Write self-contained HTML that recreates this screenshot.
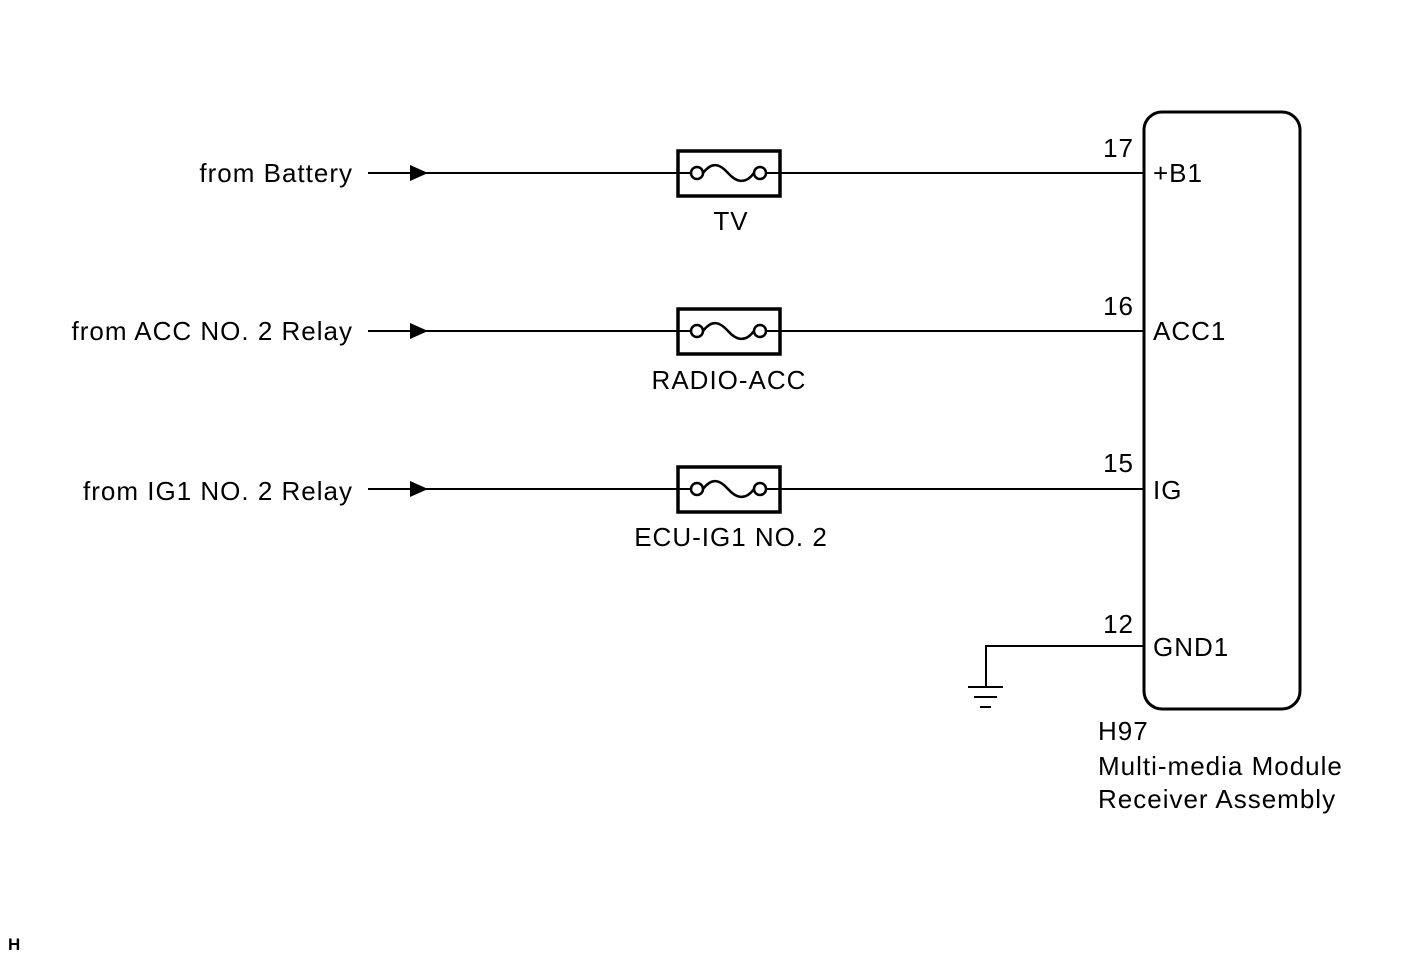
<!DOCTYPE html>
<html><head><style>body{margin:0;background:#fff}</style></head><body>
<svg width="1424" height="959" viewBox="0 0 1424 959" xmlns="http://www.w3.org/2000/svg" font-family="Liberation Sans, Arial, sans-serif" font-size="26" letter-spacing="1" fill="#000">
<rect x="1144" y="112" width="156" height="597" rx="18" fill="none" stroke="#000" stroke-width="3"/>
<g stroke="#000" stroke-width="2">
<line x1="368" y1="173" x2="1144" y2="173"/>
<line x1="368" y1="331" x2="1144" y2="331"/>
<line x1="368" y1="489" x2="1144" y2="489"/>
<polyline points="1144,646 986,646 986,687" fill="none"/>
<line x1="968" y1="687" x2="1003" y2="687"/>
<line x1="974" y1="697" x2="997" y2="697"/>
<line x1="980" y1="707" x2="991" y2="707"/>
</g>
<g id="f">
<polygon points="410,165 428,173 410,181"/>
<rect x="678" y="151" width="102" height="45" fill="#fff" stroke="#000" stroke-width="3.5"/>
<line x1="678" y1="173" x2="691" y2="173" stroke="#000" stroke-width="2"/>
<line x1="766" y1="173" x2="780" y2="173" stroke="#000" stroke-width="2"/>
<circle cx="697" cy="173" r="6" fill="#fff" stroke="#000" stroke-width="2.5"/>
<circle cx="760" cy="173" r="6" fill="#fff" stroke="#000" stroke-width="2.5"/>
<path d="M703,173 C712,161 720,164 728,173 C736,182 745,185 754,173" fill="none" stroke="#000" stroke-width="2.5"/>
</g>
<use href="#f" y="158"/>
<use href="#f" y="316"/>
<g text-anchor="end">
<text x="353" y="182">from Battery</text>
<text x="353" y="340">from ACC NO. 2 Relay</text>
<text x="353" y="500">from IG1 NO. 2 Relay</text>
<text x="1134" y="157">17</text>
<text x="1134" y="315">16</text>
<text x="1134" y="472">15</text>
<text x="1134" y="633">12</text>
</g>
<g text-anchor="middle">
<text x="731" y="230">TV</text>
<text x="729" y="389">RADIO-ACC</text>
<text x="731" y="546">ECU-IG1 NO. 2</text>
</g>
<text x="1153" y="182">+B1</text>
<text x="1153" y="340">ACC1</text>
<text x="1153" y="499">IG</text>
<text x="1153" y="656">GND1</text>
<text x="1098" y="740">H97</text>
<text x="1098" y="775">Multi-media Module</text>
<text x="1098" y="808">Receiver Assembly</text>
<text x="8" y="950" font-size="17" letter-spacing="0" font-weight="bold">H</text>
</svg>
</body></html>
